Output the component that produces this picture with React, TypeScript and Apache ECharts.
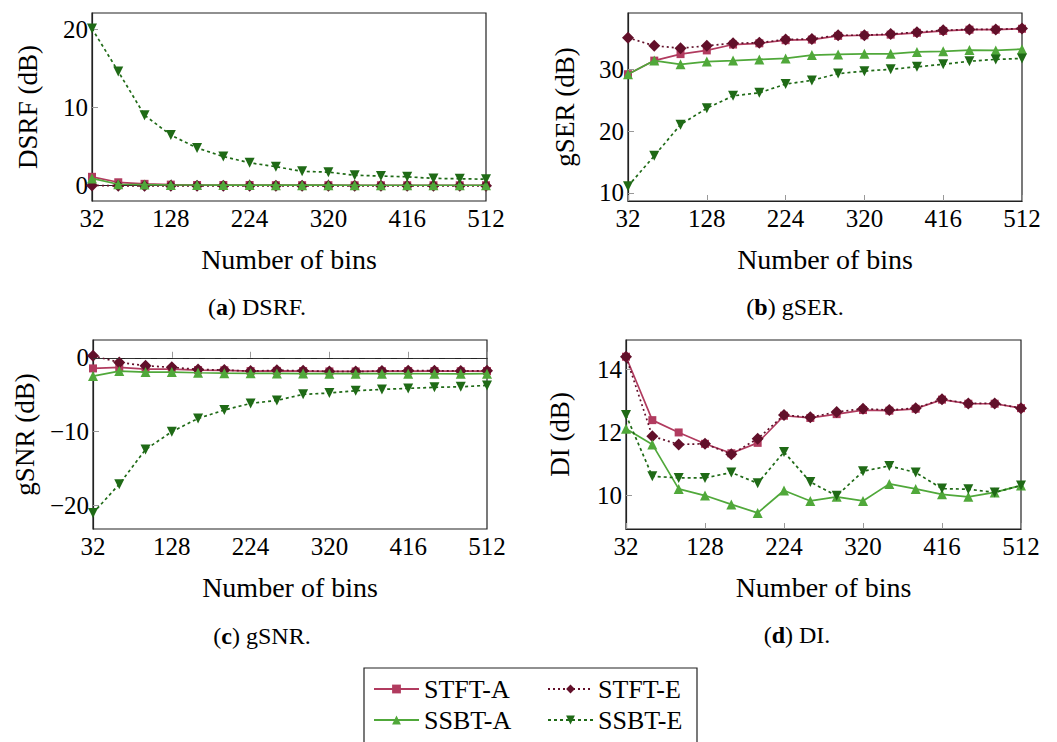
import React, { useEffect, useRef } from "react";
import * as echarts from "echarts";

// ---------- data ----------
const bins = [32, 64, 96, 128, 160, 192, 224, 256, 288, 320, 352, 384, 416, 448, 480, 512];
const xTicks = [32, 128, 224, 320, 416, 512];
const xLabel = "Number of bins";

// (a) DSRF
const dsrfStftA = [1.1, 0.4, 0.2, 0.1, 0.05, 0.05, 0.05, 0.03, 0.03, 0.03, 0.02, 0.02, 0.02, 0.02, 0.02, 0.02];
const dsrfStftE = [0.0, -0.05, -0.05, -0.05, -0.05, -0.05, -0.05, -0.05, -0.05, -0.05, -0.05, -0.05, -0.05, -0.05, -0.05, -0.05];
const dsrfSsbtA = [0.9, 0.15, 0.1, 0.05, 0.05, 0.04, 0.04, 0.03, 0.03, 0.03, 0.02, 0.02, 0.02, 0.02, 0.02, 0.02];
const dsrfSsbtE = [20.1, 14.6, 9.0, 6.45, 4.8, 3.7, 2.9, 2.4, 1.8, 1.7, 1.3, 1.2, 1.1, 0.9, 0.85, 0.8];
const dsrfTicks = [0, 10, 20];

// (b) gSER
const gserStftA = [29.2, 31.4, 32.45, 33.05, 34.0, 34.2, 34.7, 34.8, 35.4, 35.5, 35.6, 35.9, 36.2, 36.4, 36.4, 36.55];
const gserStftE = [35.1, 33.8, 33.4, 33.8, 34.2, 34.3, 34.8, 34.9, 35.5, 35.5, 35.7, 36.0, 36.3, 36.45, 36.45, 36.6];
const gserSsbtA = [29.2, 31.4, 30.8, 31.25, 31.4, 31.6, 31.75, 32.3, 32.4, 32.5, 32.5, 32.8, 32.9, 33.1, 33.05, 33.25];
const gserSsbtE = [11.1, 16.0, 21.05, 23.7, 25.7, 26.2, 27.6, 28.2, 29.3, 29.7, 30.0, 30.4, 30.8, 31.3, 31.6, 31.75];
const gserTicks = [10, 20, 30];

// (c) gSNR
const gsnrStftA = [-1.44, -1.3, -1.53, -1.53, -1.67, -1.7, -1.8, -1.78, -1.8, -1.85, -1.85, -1.82, -1.8, -1.8, -1.82, -1.8];
const gsnrStftE = [0.27, -0.63, -1.08, -1.3, -1.58, -1.67, -1.8, -1.7, -1.75, -1.85, -1.85, -1.8, -1.75, -1.75, -1.8, -1.75];
const gsnrSsbtA = [-2.48, -1.8, -1.94, -1.94, -2.03, -2.08, -2.1, -2.12, -2.14, -2.15, -2.15, -2.15, -2.15, -2.16, -2.17, -2.15];
const gsnrSsbtE = [-21.0, -17.1, -12.4, -10.0, -8.2, -7.07, -6.17, -5.77, -4.95, -4.77, -4.46, -4.28, -4.14, -4.0, -3.92, -3.74];
const gsnrTicks = [-20, -10, 0];

// (d) DI
const diStftA = [14.4, 12.39, 12.0, 11.64, 11.34, 11.67, 12.53, 12.46, 12.58, 12.71, 12.69, 12.75, 13.04, 12.91, 12.91, 12.77];
const diStftE = [14.4, 11.88, 11.62, 11.64, 11.31, 11.8, 12.55, 12.48, 12.65, 12.75, 12.71, 12.77, 13.05, 12.92, 12.92, 12.77];
const diSsbtA = [12.12, 11.62, 10.21, 10.0, 9.72, 9.45, 10.16, 9.83, 9.96, 9.83, 10.37, 10.21, 10.04, 9.96, 10.1, 10.32];
const diSsbtE = [12.55, 10.61, 10.56, 10.56, 10.73, 10.39, 11.38, 10.43, 9.99, 10.77, 10.94, 10.73, 10.22, 10.2, 10.1, 10.32];
const diTicks = [10, 12, 14];

const seriesNames = ["STFT-A", "STFT-E", "SSBT-A", "SSBT-E"];
const panelTitles = ["DSRF (dB)", "gSER (dB)", "gSNR (dB)", "DI (dB)"];
const captions = [
  ["a", "DSRF."],
  ["b", "gSER."],
  ["c", "gSNR."],
  ["d", "DI."],
];

// ---------- styles ----------
const FONT = "'Liberation Serif', 'DejaVu Serif', serif";
const colors = ["#b13b5f", "#62102a", "#50a83a", "#1f6a16"];
const symbols = ["rect", "diamond", "triangle", "path://M0,0 L10,0 L5,9 Z"];
const symbolSizes = [8, 12, 10, 10];
const lineTypes: any[] = ["solid", [2, 3], "solid", [3, 3]];

const panelData = [
  [dsrfStftA, dsrfStftE, dsrfSsbtA, dsrfSsbtE],
  [gserStftA, gserStftE, gserSsbtA, gserSsbtE],
  [gsnrStftA, gsnrStftE, gsnrSsbtA, gsnrSsbtE],
  [diStftA, diStftE, diSsbtA, diSsbtE],
];
const yTicks = [dsrfTicks, gserTicks, gsnrTicks, diTicks];
const yRanges = [
  [-2, 22.1],
  [8.7, 39.1],
  [-23.15, 2.4],
  [8.94, 14.93],
];
const grids = [
  { left: 92, top: 13, width: 394, height: 188 },
  { left: 628, top: 13, width: 394, height: 188 },
  { left: 93, top: 340, width: 394, height: 189 },
  { left: 626, top: 340, width: 395, height: 189 },
];
const yNameGaps = [51, 50, 55, 53];
const captionPos = [
  [257, 307],
  [795, 307],
  [262, 636],
  [797, 635],
];

export default function App() {
  const ref = useRef<HTMLDivElement>(null);
  useEffect(() => {
    document.body.style.margin = "0";
    const chart = echarts.init(ref.current!, null, { renderer: "svg" });

    const series: any[] = [];
    panelData.forEach((set, p) => {
      set.forEach((vals, i) => {
        const s: any = {
          type: "line",
          name: seriesNames[i],
          xAxisIndex: p,
          yAxisIndex: p,
          data: bins.map((b, k) => [b, vals[k]]),
          symbol: symbols[i],
          symbolSize: symbolSizes[i],
          showAllSymbol: true,
          clip: false,
          color: colors[i],
          itemStyle: { color: colors[i] },
          lineStyle: { color: colors[i], width: 1.7, type: lineTypes[i] },
          z: 2 + i,
        };
        if (p === 2 && i === 0) {
          s.markLine = {
            silent: true,
            symbol: "none",
            label: { show: false },
            lineStyle: { color: "#333", type: [10, 6], width: 1.2 },
            data: [{ yAxis: 0 }],
          };
        }
        series.push(s);
      });
    });

    const tickStyle = { color: "#999", width: 1 };
    const legendCommon = {
      orient: "vertical",
      top: 676,
      padding: 0,
      itemWidth: 45,
      itemHeight: 11,
      itemGap: 5,
      height: 66,
      textStyle: { fontFamily: FONT, fontSize: 26, color: "#000" },
      selectedMode: false,
    };
    const option: any = {
      animation: false,
      grid: grids.map((g) => ({ ...g, show: true, borderColor: "#222", borderWidth: 1.2, backgroundColor: "transparent" })),
      xAxis: grids.map((_, p) => ({
        type: "value",
        gridIndex: p,
        min: 32,
        max: 512,
        name: xLabel,
        nameLocation: "middle",
        nameGap: 44,
        nameTextStyle: { fontFamily: FONT, fontSize: 28, color: "#000" },
        axisLine: { show: true, lineStyle: { color: "#222", width: 1.2 } },
        axisTick: { show: true, inside: true, length: 6, lineStyle: tickStyle, customValues: xTicks },
        axisLabel: { fontFamily: FONT, fontSize: 25, color: "#000", margin: 5, customValues: xTicks },
        splitLine: { show: false },
      })),
      yAxis: grids.map((_, p) => ({
        type: "value",
        gridIndex: p,
        min: yRanges[p][0],
        max: yRanges[p][1],
        name: panelTitles[p],
        nameLocation: "middle",
        nameGap: yNameGaps[p],
        nameTextStyle: { fontFamily: FONT, fontSize: 27, color: "#000" },
        axisLine: { show: true, lineStyle: { color: "#222", width: 1.2 } },
        axisTick: { show: true, inside: true, length: 6, lineStyle: tickStyle, customValues: yTicks[p] },
        axisLabel: {
          fontFamily: FONT,
          fontSize: 25,
          color: "#000",
          margin: 4,
          customValues: yTicks[p],
          formatter: (v: number) => String(v).replace("-", "\u2212"),
        },
        splitLine: { show: false },
      })),
      legend: [
        { ...legendCommon, data: [seriesNames[0], seriesNames[2]], left: 373 },
        { ...legendCommon, data: [seriesNames[1], seriesNames[3]], left: 547 },
      ],
      graphic: [
        {
          type: "rect",
          shape: { x: 364, y: 668, width: 333, height: 90 },
          style: { fill: "none", stroke: "#222", lineWidth: 1.2 },
          silent: true,
        },
        ...captions.map((c, p) => ({
          type: "text",
          x: captionPos[p][0],
          y: captionPos[p][1],
          style: {
            text: `({b|${c[0]}}) ${c[1]}`,
            fontFamily: FONT,
            fontSize: 24,
            fill: "#000",
            align: "center",
            verticalAlign: "middle",
            rich: { b: { fontFamily: FONT, fontSize: 24, fontWeight: "bold", fill: "#000" } },
          },
        })),
      ],
      series,
    };
    chart.setOption(option);
    return () => chart.dispose();
  }, []);
  return <div ref={ref} style={{ width: 1057, height: 742 }} />;
}
